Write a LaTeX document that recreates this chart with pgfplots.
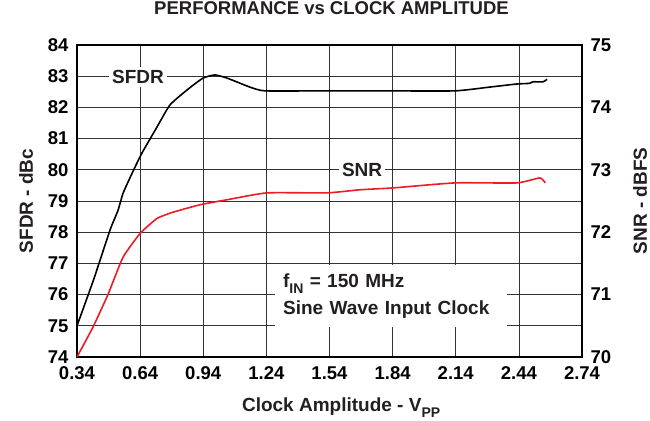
\documentclass[border=0pt]{standalone}
\usepackage{pgfplots}
\pgfplotsset{compat=1.18}
\usepackage{fontspec}
\setmainfont{Liberation Sans}
\definecolor{snrred}{HTML}{ED1C24}
\definecolor{txt}{HTML}{231F20}
\newcommand{\sub}[1]{\raisebox{-0.3em}{\fontsize{14}{14}\selectfont #1}}
\begin{document}
\begin{tikzpicture}
\path[use as bounding box] (-77pt,-63pt) rectangle (573pt,357pt);
\begin{axis}[
  scale only axis, width=505pt, height=312pt,
  xmin=0.34, xmax=2.74, ymin=74, ymax=84,
  xtick={0.34,0.64,0.94,1.24,1.54,1.84,2.14,2.44,2.74},
  xticklabels={0.34,0.64,0.94,1.24,1.54,1.84,2.14,2.44,2.74},
  ytick={74,75,...,84},
  grid=major,
  major grid style={black!80, line width=0.75pt},
  major tick length=0pt,
  axis line style={line width=2pt},
  /pgf/number format/assume math mode=true,
  ticklabel style={font=\fontsize{18.5}{20}\selectfont\bfseries},
  xticklabel style={yshift=-6pt},
  yticklabel style={xshift=-5pt},
  ylabel={SFDR - dBc},
  ylabel style={at={(axis description cs:-0.101,0.5)}, anchor=center, rotate=0, font=\fontsize{19}{20}\selectfont\bfseries, text=txt},
  xlabel={Clock Amplitude - V\sub{PP}},
  xlabel style={at={(axis description cs:0.523,-0.176)}, anchor=base, font=\fontsize{19}{20}\selectfont\bfseries, text=txt},
  title={PERFORMANCE vs CLOCK AMPLITUDE},
  title style={at={(axis description cs:0.504,1.080)}, anchor=base, font=\fontsize{18.5}{20}\selectfont\bfseries, text=txt},
]
\node[fill=white, inner sep=3pt, font=\fontsize{19}{20}\selectfont\bfseries, text=txt] at (axis cs:0.63,82.97) {SFDR};
\node[fill=white, inner sep=3pt, font=\fontsize{19}{20}\selectfont\bfseries, text=txt] at (axis cs:1.695,80) {SNR};
\node[fill=white, inner sep=0pt, minimum width=232pt, minimum height=62pt, font=\fontsize{19}{27}\selectfont\bfseries, text=txt, align=left, text width=216pt] at (axis cs:1.833,75.95) {f\sub{IN} = 150 MHz\\Sine Wave Input Clock};
\addplot[black, line width=1.6pt, smooth, tension=0.3] coordinates {
(0.34,75.0) (0.42,76.5) (0.497,78.07) (0.535,78.7) (0.559,79.25) (0.606,79.95) (0.649,80.54)
(0.72,81.37) (0.782,82.08) (0.863,82.56) (0.939,82.94) (0.996,83.04) (1.053,82.94)
(1.162,82.65) (1.233,82.53) (1.5,82.53) (1.8,82.53) (2.136,82.53) (2.3,82.65)
(2.43,82.75) (2.49,82.77) (2.507,82.82) (2.555,82.82) (2.574,82.9)
};
\end{axis}
\begin{axis}[
  scale only axis, width=505pt, height=312pt,
  xmin=0.34, xmax=2.74, ymin=70, ymax=75,
  axis x line=none, axis y line*=right,
  ytick={70,71,...,75},
  major tick length=0pt,
  axis line style={line width=2pt},
  /pgf/number format/assume math mode=true,
  ticklabel style={font=\fontsize{18.5}{20}\selectfont\bfseries},
  yticklabel style={xshift=5pt},
  ylabel={SNR - dBFS},
  ylabel style={at={(axis description cs:1.115,0.5)}, anchor=center, rotate=0, font=\fontsize{19}{20}\selectfont\bfseries, text=txt},
]
\addplot[snrred, line width=1.6pt, smooth, tension=0.3] coordinates {
(0.34,70.0) (0.416,70.48) (0.487,71.0) (0.559,71.6) (0.64,71.98) (0.72,72.22)
(0.796,72.32) (0.925,72.44) (1.053,72.52) (1.243,72.63) (1.528,72.63) (1.685,72.68)
(1.842,72.71) (2.136,72.79) (2.43,72.79) (2.54,72.87) (2.565,72.79)
};
\end{axis}
\end{tikzpicture}
\end{document}
